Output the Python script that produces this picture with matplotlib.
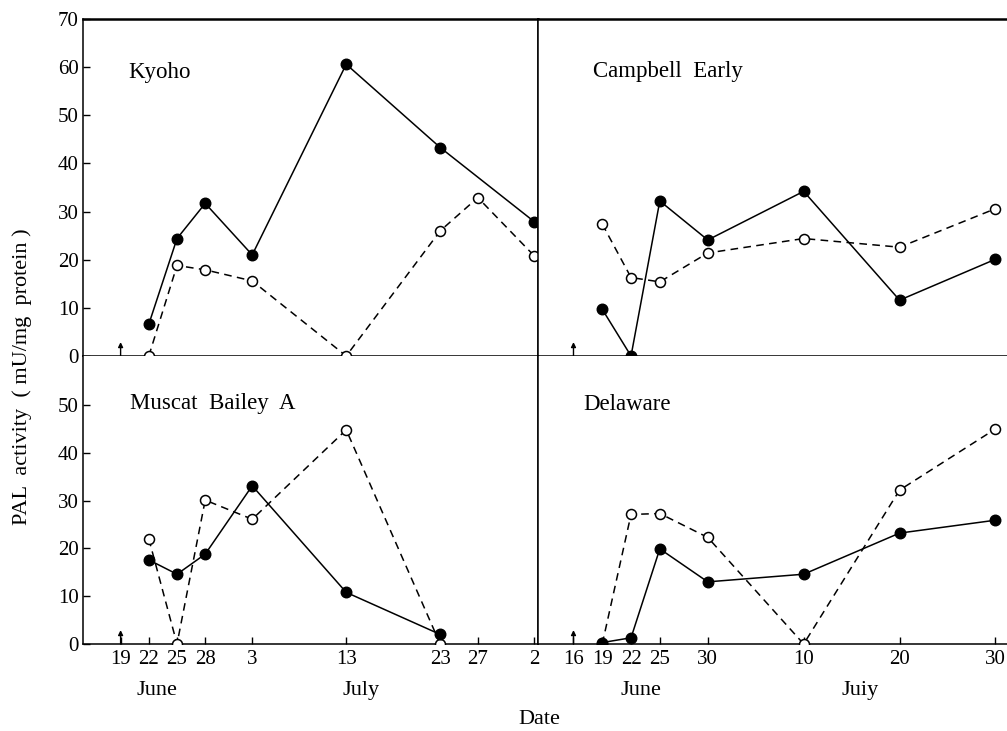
import matplotlib
matplotlib.use("Agg")
import matplotlib.pyplot as plt
from matplotlib.transforms import offset_copy

plt.rcParams['font.family'] = ['Liberation Serif', 'DejaVu Serif']
plt.rcParams['font.size'] = 15

# days counted from 1 June (July 3 = 33, Aug 2 = 63)
left_ticks = [19, 22, 25, 28, 33, 43, 53, 57, 63]
left_labels = ['19', '22', '25', '28', '3', '13', '23', '27', '2']
right_ticks = [16, 19, 22, 25, 30, 40, 50, 60]
right_labels = ['16', '19', '22', '25', '30', '10', '20', '30']

# Kyoho
kyoho_closed_days = [22, 25, 28, 33, 43, 53, 63]
kyoho_closed = [6.6, 24.4, 31.7, 21.0, 60.6, 43.3, 27.9]
kyoho_open_days = [22, 25, 28, 33, 43, 53, 57, 63]
kyoho_open = [0, 18.8, 17.9, 15.6, 0, 26.0, 32.9, 20.8]

# Campbell Early
campbell_days = [19, 22, 25, 30, 40, 50, 60]
campbell_closed = [9.7, 0, 32.2, 24.1, 34.2, 11.6, 20.1]
campbell_open = [27.4, 16.3, 15.4, 21.4, 24.4, 22.6, 30.6]

# Muscat Bailey A
muscat_days = [22, 25, 28, 33, 43, 53]
muscat_closed = [17.6, 14.6, 18.8, 33.1, 10.8, 2.0]
muscat_open = [22.0, 0, 30.1, 26.1, 44.8, 0]

# Delaware
delaware_days = [19, 22, 25, 30, 40, 50, 60]
delaware_closed = [0.3, 1.3, 19.9, 13.0, 14.6, 23.2, 25.9]
delaware_open = [0, 27.1, 27.3, 22.3, 0, 32.2, 45.0]

fig = plt.figure(figsize=(10.07, 7.31), dpi=100)

x0, xm, x1 = 83/1007, 538/1007, 1.0
yt, ym, yb = 1 - 19/731, 1 - 356/731, 1 - 644/731

ax_tl = fig.add_axes([x0, ym, xm - x0, yt - ym])
ax_tr = fig.add_axes([xm, ym, x1 - xm, yt - ym])
ax_bl = fig.add_axes([x0, yb, xm - x0, ym - yb])
ax_br = fig.add_axes([xm, yb, x1 - xm, ym - yb])

left_xlim = (15.0, 63.4)
right_xlim = (12.3, 61.2)


def draw(ax, od, ov, cd, cv):
    ax.plot(od, ov, color='k', lw=1.1, ls=(0, (5, 3.5)), marker='o', ms=7.2,
            mfc='white', mec='k', mew=1.1, zorder=3)
    ax.plot(cd, cv, color='k', lw=1.1, ls='-', marker='o', ms=7.6,
            mfc='k', mec='k', zorder=4)


draw(ax_tl, kyoho_open_days, kyoho_open, kyoho_closed_days, kyoho_closed)
draw(ax_tr, campbell_days, campbell_open, campbell_days, campbell_closed)
draw(ax_bl, muscat_days, muscat_open, muscat_days, muscat_closed)
draw(ax_br, delaware_days, delaware_open, delaware_days, delaware_closed)

for ax in (ax_tl, ax_bl):
    ax.set_xlim(*left_xlim)
for ax in (ax_tr, ax_br):
    ax.set_xlim(*right_xlim)
ax_tl.set_ylim(0, 70)
ax_tr.set_ylim(0, 70)
ax_bl.set_ylim(0, 60.25)
ax_br.set_ylim(0, 60.25)

for ax in (ax_tl, ax_tr, ax_bl, ax_br):
    for s in ax.spines.values():
        s.set_linewidth(1.1)
    ax.tick_params(direction='in', length=5, width=1.0, pad=4, labelsize=15)

ax_tl.spines['top'].set_linewidth(1.8)
ax_tr.spines['top'].set_linewidth(1.8)
ax_tr.spines['right'].set_visible(False)
ax_br.spines['right'].set_visible(False)
ax_bl.spines['top'].set_visible(False)
ax_br.spines['top'].set_visible(False)

ax_tl.set_yticks(range(0, 71, 10))
ax_bl.set_yticks(range(0, 51, 10))
ax_tl.tick_params(axis='y', pad=3)
ax_bl.tick_params(axis='y', pad=3)
for ax in (ax_tr, ax_br):
    ax.set_yticks([])
for ax in (ax_tl, ax_tr):
    ax.set_xticks([])

ax_bl.set_xticks(left_ticks)
ax_bl.set_xticklabels(left_labels)
ax_br.set_xticks(right_ticks)
ax_br.set_xticklabels(right_labels)

# sampling start arrows
for ax, day in ((ax_tl, 19), (ax_bl, 19), (ax_tr, 16), (ax_br, 16)):
    tip = offset_copy(ax.transData, fig=fig, x=0, y=10, units='points')
    ax.annotate('', xy=(day, 0), xycoords=tip, xytext=(day, 0), textcoords='data',
                arrowprops=dict(arrowstyle='-|>', lw=1.0, color='k',
                                mutation_scale=7, shrinkA=0, shrinkB=0))

# variety names
ax_tl.text(0.1, 0.84, 'Kyoho', transform=ax_tl.transAxes, ha='left', va='center', fontsize=16.5)
ax_tr.text(0.118, 0.845, 'Campbell  Early', transform=ax_tr.transAxes, ha='left', va='center', fontsize=16.5)
ax_bl.text(0.103, 0.835, 'Muscat  Bailey  A', transform=ax_bl.transAxes, ha='left', va='center', fontsize=16.5)
ax_br.text(0.097, 0.83, 'Delaware', transform=ax_br.transAxes, ha='left', va='center', fontsize=16.5)

# months
ax_bl.text(22.9, -0.16, 'June', transform=ax_bl.get_xaxis_transform(), ha='center', va='center', fontsize=16)
ax_bl.text(44.6, -0.16, 'July', transform=ax_bl.get_xaxis_transform(), ha='center', va='center', fontsize=16)
ax_br.text(23.0, -0.16, 'June', transform=ax_br.get_xaxis_transform(), ha='center', va='center', fontsize=16)
ax_br.text(45.9, -0.16, 'Juiy', transform=ax_br.get_xaxis_transform(), ha='center', va='center', fontsize=16)

fig.text(539/1007, 1 - 719/731, 'Date', ha='center', va='center', fontsize=16)
fig.text(22/1007, 1 - 377/731, 'PAL  activity  ( mU/mg  protein )', rotation=90,
         ha='center', va='center', fontsize=16)

fig.savefig('out.png', dpi=100)
